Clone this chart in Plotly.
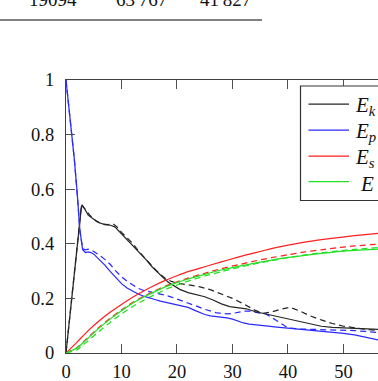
import plotly.graph_objects as go

# ---- data ----
t_ek = [0, 2.8, 3.3, 4, 5, 6, 7, 8, 8.8, 9.6, 10.5, 11.5, 12.5, 13.5, 14.5, 15.5, 16.5, 17.5,
        18.5, 19.5, 20.5, 22, 23.5, 25, 26.5, 28, 29.5, 31, 32.5, 34, 35.5, 37, 38.5, 40, 42,
        44, 46, 48, 50, 52, 54, 56.3]
ek = [0, 0.54, 0.53, 0.505, 0.49, 0.477, 0.47, 0.468, 0.462, 0.445, 0.428, 0.405, 0.385, 0.362,
      0.34, 0.316, 0.295, 0.276, 0.258, 0.244, 0.233, 0.221, 0.213, 0.206, 0.194, 0.18, 0.17,
      0.167, 0.162, 0.152, 0.145, 0.139, 0.133, 0.125, 0.115, 0.105, 0.098, 0.094, 0.092, 0.09,
      0.088, 0.086]

t_ek_d = [0, 2.8, 3.5, 4.5, 5.5, 6.5, 7.5, 8.5, 9.2, 10, 11, 12, 13, 14, 15, 16, 17, 18, 19, 20,
          22, 24, 26, 28, 30, 32, 34, 35.5, 37, 39, 40.4, 42, 44, 46, 48, 50, 52, 54, 56.3]
ek_d = [0, 0.545, 0.525, 0.5, 0.482, 0.473, 0.47, 0.473, 0.462, 0.442, 0.422, 0.402, 0.375,
        0.352, 0.33, 0.308, 0.288, 0.272, 0.262, 0.256, 0.25, 0.243, 0.232, 0.216, 0.2, 0.18,
        0.157, 0.145, 0.15, 0.162, 0.167, 0.155, 0.136, 0.121, 0.108, 0.098, 0.092, 0.087, 0.082]

t_ep = [0, 0.5, 1, 1.5, 2, 2.5, 3, 3.5, 4, 4.5, 5, 5.5, 6, 7, 8, 9, 10, 11, 12, 13, 14, 15, 16,
        17, 18, 19, 20, 21, 22, 23, 24, 25, 26, 27, 28, 29, 30, 31, 32, 33, 34, 36, 38, 40, 42,
        44, 46, 48, 50, 52, 54, 56.3]
ep = [1, 0.905, 0.81, 0.71, 0.59, 0.45, 0.378, 0.368, 0.37, 0.368, 0.362, 0.352, 0.342, 0.322,
      0.298, 0.274, 0.254, 0.238, 0.226, 0.216, 0.208, 0.201, 0.196, 0.19, 0.185, 0.18, 0.177,
      0.172, 0.167, 0.158, 0.148, 0.141, 0.136, 0.134, 0.132, 0.129, 0.124, 0.116, 0.11, 0.106,
      0.103, 0.099, 0.095, 0.091, 0.088, 0.085, 0.081, 0.077, 0.072, 0.066, 0.058, 0.048]
ep_d = [1, 0.905, 0.81, 0.71, 0.59, 0.45, 0.382, 0.378, 0.38, 0.378, 0.372, 0.366, 0.358, 0.343,
        0.324, 0.3, 0.279, 0.263, 0.249, 0.237, 0.229, 0.225, 0.221, 0.216, 0.211, 0.205, 0.198,
        0.19, 0.183, 0.176, 0.168, 0.16, 0.153, 0.148, 0.145, 0.143, 0.145, 0.15, 0.153, 0.153,
        0.15, 0.143, 0.118, 0.092, 0.088, 0.087, 0.086, 0.085, 0.084, 0.082, 0.079, 0.075]

t_s = [0, 2, 4, 6, 8, 10, 12, 14, 16, 18, 20, 22, 25, 28, 31, 34, 37, 40, 43, 46, 49, 52, 56.3]
es = [0, 0.04, 0.082, 0.118, 0.15, 0.178, 0.204, 0.227, 0.248, 0.267, 0.283, 0.298, 0.316,
      0.334, 0.351, 0.367, 0.382, 0.395, 0.406, 0.415, 0.423, 0.43, 0.438]
es_d = [0, 0.02, 0.058, 0.095, 0.128, 0.158, 0.185, 0.208, 0.228, 0.246, 0.261, 0.274, 0.292,
        0.309, 0.323, 0.337, 0.349, 0.36, 0.37, 0.378, 0.386, 0.392, 0.399]
e_tot = [0, 0.018, 0.055, 0.092, 0.125, 0.155, 0.182, 0.205, 0.225, 0.243, 0.258, 0.271, 0.288,
         0.304, 0.317, 0.329, 0.34, 0.35, 0.358, 0.365, 0.371, 0.376, 0.381]
e_tot_d = [0, 0.012, 0.045, 0.08, 0.113, 0.143, 0.17, 0.193, 0.214, 0.233, 0.249, 0.263, 0.282,
           0.298, 0.313, 0.326, 0.338, 0.349, 0.359, 0.367, 0.374, 0.38, 0.386]

names = ["<i>E</i><sub><i>k</i></sub>", "<i>E</i><sub><i>p</i></sub>",
         "<i>E</i><sub><i>s</i></sub>", "<i>E</i>"]
table_values = ["19094", "63\u2009767", "41\u2009827"]

x_ticks = [0, 10, 20, 30, 40, 50]
y_ticks = [0, 0.2, 0.4, 0.6, 0.8, 1]

# ---- styling ----
BLACK = "#262626"
BLUE = "#2a2aff"
RED = "#ff2020"
GREEN = "#22e022"
LW = 1.25
DASH = "6px,4px"
SERIF = "Liberation Serif"

L, T, W, H = 66, 80, 312, 273
X_MAX = 56.22


def px2x(px):
    return (px - L) / W


def py2y(py):
    return (T + H - py) / H


fig = go.Figure()
series = [
    (t_ek, ek, t_ek_d, ek_d, BLACK, names[0], "linear"),
    (t_ep, ep, t_ep, ep_d, BLUE, names[1], "linear"),
    (t_s, es, t_s, es_d, RED, names[2], "spline"),
    (t_s, e_tot, t_s, e_tot_d, GREEN, names[3], "spline"),
]
for tx, y, txd, yd, c, nm, shp in series:
    fig.add_trace(go.Scatter(x=txd, y=yd, mode="lines", showlegend=False, name=nm + " (dashed)",
                             line=dict(color=c, width=LW, dash=DASH, shape=shp, smoothing=0.6)))
for tx, y, txd, yd, c, nm, shp in series:
    fig.add_trace(go.Scatter(x=tx, y=y, mode="lines", showlegend=False, name=nm,
                             line=dict(color=c, width=LW, shape=shp, smoothing=0.6)))

axis_common = dict(showgrid=False, zeroline=False, showline=True, linecolor="#404040",
                   linewidth=1.3, ticks="inside", ticklen=9, tickwidth=1, tickcolor="#505050",
                   tickfont=dict(family=SERIF, size=18.5, color="#111"))

fig.update_xaxes(range=[0, X_MAX], tickvals=x_ticks, mirror="ticks", ticklabelstandoff=2,
                 **axis_common)
fig.update_yaxes(range=[0, 1], tickvals=y_ticks, mirror=False, ticklabelstandoff=7,
                 **axis_common)

# legend box (cropped at the right edge like the reference)
fig.add_shape(type="rect", xref="paper", yref="paper", x0=px2x(300.5), x1=px2x(430),
              y0=py2y(200.5), y1=py2y(86), line=dict(color="#333", width=1.2),
              fillcolor="white", layer="above")
legend_rows = [104, 130, 156, 181.5]
for (tx, y, txd, yd, c, nm, shp), ry in zip(series, legend_rows):
    fig.add_shape(type="line", xref="paper", yref="paper", x0=px2x(308.5), x1=px2x(349),
                  y0=py2y(ry), y1=py2y(ry), line=dict(color=c, width=LW), layer="above")
    lx = 353 if nm != names[3] else 358
    fig.add_annotation(x=px2x(lx), y=py2y(ry + 2), xref="paper", yref="paper", text=nm,
                       showarrow=False, xanchor="left", yanchor="middle",
                       font=dict(family=SERIF, size=21, color="#111"))

# table fragment above the chart
for cx, txt in zip([52.5, 141.5, 225], table_values):
    fig.add_annotation(x=px2x(cx), y=py2y(12.5), xref="paper", yref="paper", text=txt,
                       showarrow=False, xanchor="center", yanchor="bottom",
                       font=dict(family=SERIF, size=19, color="#111"))
fig.add_shape(type="line", xref="paper", yref="paper", x0=px2x(0), x1=px2x(262),
              y0=py2y(20), y1=py2y(20), line=dict(color="#808080", width=2))

fig.update_layout(
    width=378, height=381,
    margin=dict(l=L, r=0, t=T, b=381 - T - H, pad=0),
    paper_bgcolor="white", plot_bgcolor="white",
    showlegend=False,
)

fig.write_html("out.html")
